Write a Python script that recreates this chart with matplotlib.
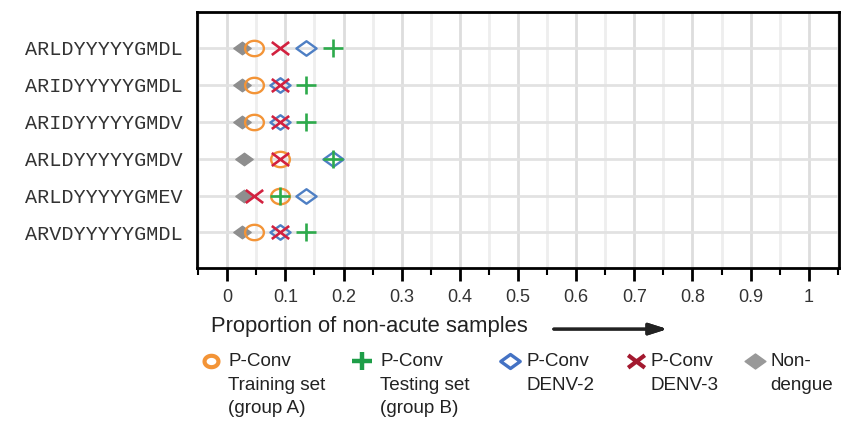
import matplotlib.pyplot as plt
import numpy as np
from matplotlib.path import Path
from matplotlib.lines import Line2D

plt.rcParams['font.family'] = ['Liberation Sans', 'DejaVu Sans']

sequences = ['ARLDYYYYYGMDL', 'ARIDYYYYYGMDL', 'ARIDYYYYYGMDV',
             'ARLDYYYYYGMDV', 'ARLDYYYYYGMEV', 'ARVDYYYYYGMDL']

non_dengue = [0.026, 0.026, 0.026, 0.028, 0.028, 0.026]
train_a = [0.0455, 0.0455, 0.0455, 0.0909, 0.0909, 0.0455]
test_b = [0.182, 0.136, 0.136, 0.182, 0.0909, 0.136]
denv2 = [0.136, 0.0909, 0.0909, 0.182, 0.136, 0.0909]
denv3 = [0.0909, 0.0909, 0.0909, 0.0909, 0.0455, 0.0909]

legend_labels = ['P-Conv\nTraining set\n(group A)', 'P-Conv\nTesting set\n(group B)',
                 'P-Conv\nDENV-2', 'P-Conv\nDENV-3', 'Non-\ndengue']

# slightly flattened marker shapes
t = np.linspace(0, 2 * np.pi, 60)
ellipse = Path(np.column_stack([np.cos(t), 0.82 * np.sin(t)]), closed=True)
diamond = Path([(-1, 0), (0, 0.72), (1, 0), (0, -0.72), (-1, 0)], closed=True)
cross = Path([(-1, -0.75), (1, 0.75), (-1, 0.75), (1, -0.75)],
             [Path.MOVETO, Path.LINETO, Path.MOVETO, Path.LINETO])
plus = Path([(-1, 0), (1, 0), (0, -0.9), (0, 0.9)],
            [Path.MOVETO, Path.LINETO, Path.MOVETO, Path.LINETO])

orange = '#F39437'
green = '#2DAA4B'
blue = '#4E7FC4'
red = '#D2213F'
gray = '#8E8E8E'

fig = plt.figure(figsize=(8.58, 4.23), dpi=100)
ax = fig.add_axes([0.2296, 0.3664, 0.7483, 0.6052])

y = np.arange(len(sequences))
ax.plot(non_dengue, y, ls='none', marker=diamond, ms=12.5, color=gray, zorder=3)
ax.plot(train_a, y, ls='none', marker=ellipse, ms=13.5, mfc='none', mec=orange, mew=1.7, zorder=4)
ax.plot(denv2, y, ls='none', marker=diamond, ms=14.5, mfc='none', mec=blue, mew=1.7, zorder=5)
ax.plot(test_b, y, ls='none', marker=plus, ms=14, color=green, mew=1.9, zorder=6)
ax.plot(denv3, y, ls='none', marker=cross, ms=12.5, color=red, mew=1.9, zorder=7)

ax.set_xlim(-0.052, 1.052)
ax.set_ylim(5.96, -0.96)
ax.set_xticks(np.arange(0, 1.01, 0.1))
ax.set_xticklabels(['0'] + ['%.1f' % v for v in np.arange(0.1, 0.95, 0.1)] + ['1'])
ax.set_xticks(np.arange(-0.05, 1.06, 0.05), minor=True)
ax.set_yticks(y)
ax.set_yticklabels(sequences, family='Liberation Mono', fontsize=14.5, color='#333333')
ax.tick_params(axis='y', length=0, pad=10)
ax.tick_params(axis='x', which='major', length=9, width=2, labelsize=13, pad=6,
               labelcolor='#333333')
ax.tick_params(axis='x', which='minor', length=5, width=1.5)
ax.grid(axis='x', which='major', color='#dddddd', lw=2, zorder=0)
ax.grid(axis='x', which='minor', color='#eeeeee', lw=2, zorder=0)
ax.grid(axis='y', color='#e2e2e2', lw=2, zorder=0)
ax.set_axisbelow(True)
for s in ax.spines.values():
    s.set_linewidth(2)

fig.text(0.246, 0.227, 'Proportion of non-acute samples', fontsize=15.8,
         color='#222222', va='center')
fig.add_artist(plt.annotate('', xy=(670 / 858, 0.222), xytext=(551 / 858, 0.222),
                            xycoords='figure fraction',
                            arrowprops=dict(arrowstyle='-|>,head_length=1.1,head_width=0.35',
                                            lw=2.2, color='#222222')))

# legend drawn by hand so the marker sits on the first text line
leg_markers = [(ellipse, orange, 'none', 10, 3.0), (plus, '#1E9E48', '#1E9E48', 14, 3.2),
               (diamond, '#4472C4', 'none', 14, 2.4), (cross, '#A3192F', '#A3192F', 12, 3.0),
               (diamond, '#999999', '#999999', 15, 1.0)]
marker_x = [211, 362, 510, 636, 755]
text_x = [228, 380, 527, 651, 770]
for (m, ec, fc, ms, mw), mx, tx, lab in zip(leg_markers, marker_x, text_x, legend_labels):
    fig.add_artist(Line2D([mx / 858], [1 - 361 / 423], transform=fig.transFigure,
                          marker=m, ms=ms, mec=ec, mfc=fc, mew=mw, ls='none'))
    fig.text(tx / 858, 1 - 353 / 423, lab, fontsize=13.6, color='#222222',
             va='top', linespacing=1.5)

fig.savefig('out.png', dpi=100)
